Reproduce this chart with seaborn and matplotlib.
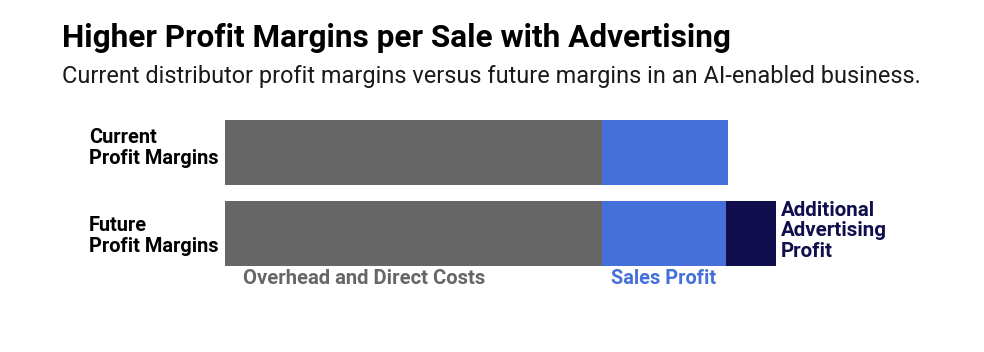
import numpy as np
import pandas as pd
import seaborn as sns
import matplotlib.pyplot as plt

# ==========================================
# Data
# ==========================================

rows = ["Current\nProfit Margins", "Future\nProfit Margins"]
overhead = [75, 75]
sales_profit = [25, 24.6]
ad_profit = [0, 10]

segment_names = ["Overhead and Direct Costs", "Sales Profit", "Additional\nAdvertising\nProfit"]
colors = ["#666666", "#4570d9", "#100e4c"]

df = pd.DataFrame({
    "row": rows,
    "overhead": overhead,
    "sales": sales_profit,
    "ad": ad_profit,
})
df["cum_sales"] = df["overhead"] + df["sales"]
df["cum_ad"] = df["cum_sales"] + df["ad"]

# ==========================================
# Figure
# ==========================================

sns.set_theme(style="white")
plt.rcParams["font.family"] = ["Roboto", "DejaVu Sans"]

W, H = 984, 352
fig = plt.figure(figsize=(W / 100, H / 100), dpi=100)

# axes spans pixel x 225..825, y 120..266
ax = fig.add_axes([225 / W, (H - 266) / H, 600 / W, 146 / H])

bar_w = 65 / 81
# stacked bars: draw totals first, then overlay shorter sums
sns.barplot(data=df, x="cum_ad", y="row", color=colors[2], width=bar_w,
            saturation=1, orient="h", ax=ax)
sns.barplot(data=df, x="cum_sales", y="row", color=colors[1], width=bar_w,
            saturation=1, orient="h", ax=ax)
sns.barplot(data=df, x="overhead", y="row", color=colors[0], width=bar_w,
            saturation=1, orient="h", ax=ax)

for p in ax.patches:
    p.set_edgecolor("none")

ax.set_xlim(0, 600 / (377 / 75))
ax.set_ylim(1 + bar_w / 2, -bar_w / 2)
ax.set_xlabel("")
ax.set_ylabel("")
ax.set_xticks([])
ax.set_yticks([])
sns.despine(ax=ax, left=True, bottom=True)

def px(x, y):
    return x / W, 1 - y / H

# row labels
for lab, ypix in zip(rows, [148, 236]):
    fig.text(*px(89, ypix), lab, ha="left", va="center",
             fontsize=14.4, fontweight="bold", color="black", linespacing=1.15)

# segment labels
fig.text(*px(243, 279), segment_names[0], ha="left", va="center",
         fontsize=14.6, fontweight="bold", color=colors[0])
fig.text(*px(611, 279), segment_names[1], ha="left", va="center",
         fontsize=14.4, fontweight="bold", color=colors[1])
fig.text(*px(781, 231), segment_names[2], ha="left", va="center",
         fontsize=14.8, fontweight="bold", color=colors[2], linespacing=1.12)

# titles
fig.text(*px(62, 38), "Higher Profit Margins per Sale with Advertising",
         ha="left", va="center", fontsize=22.7, fontweight="bold", color="black")
fig.text(*px(62, 76), "Current distributor profit margins versus future margins in an AI-enabled business.",
         ha="left", va="center", fontsize=16.9, color="#1a1a1a")

plt.savefig("out.png", dpi=100)
